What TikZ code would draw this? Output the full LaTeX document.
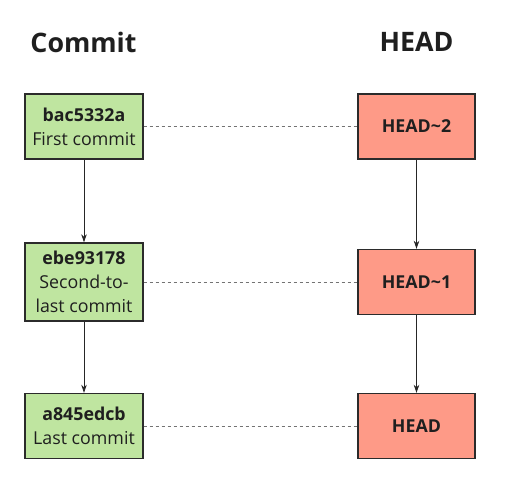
\documentclass[tikz,border=0pt]{standalone}
\usepackage{fontspec}
\setmainfont{Open Sans}
\usepackage{tikz}
\usetikzlibrary{arrows.meta}
\definecolor{commitgreen}{HTML}{BFE5A0}
\definecolor{headred}{HTML}{FE9A87}
\definecolor{boxline}{HTML}{2B2B2B}
\tikzset{
  commitbox/.style={draw=boxline,line width=1.4pt,fill=commitgreen,minimum width=118pt,
    minimum height=65pt,inner sep=0pt,align=center,text=black!88,font=\fontsize{17.8}{24}\selectfont},
  headbox/.style={draw=boxline,line width=1.4pt,fill=headred,minimum width=117pt,
    minimum height=65pt,inner sep=0pt,text=black!88,font=\fontsize{17.8}{24}\selectfont\bfseries},
  title/.style={font=\fontsize{26.8}{30}\selectfont\bfseries,text=black!88},
  link/.style={dashed,dash pattern=on 3pt off 3pt,draw=black!55,line width=0.7pt},
  next/.style={->,line width=0.8pt,draw=black!85}
}
\begin{document}
\begin{tikzpicture}[x=1pt,y=-1pt,>={Stealth[length=8pt,width=5.5pt]}]
      \useasboundingbox[fill=white] (0,0) rectangle (511,490);
      \node[title] (tcommit) at (83.5,42) {Commit};
      \node[title] (thead) at (416.5,42) {HEAD};
      % commits
      \node[commitbox] (c1) at (84,126.5) {\textbf{bac5332a}\\First commit};
      \node[commitbox,minimum height=78pt] (c2) at (84,282) {\textbf{ebe93178}\\Second-to-\\last commit};
      \node[commitbox] (c3) at (84,426) {\textbf{a845edcb}\\Last commit};
      % head refs
      \node[headbox] (h2) at (416.5,126.5) {HEAD\textasciitilde 2};
      \node[headbox] (h1) at (416.5,282) {HEAD\textasciitilde 1};
      \node[headbox] (h0) at (416.5,426) {HEAD};
      \draw[next] (c1) -- (c2);
      \draw[next] (c2) -- (c3);
      \draw[next] (h2) -- (h1);
      \draw[next] (h1) -- (h0);
      \draw[link] (c1) -- (h2);
      \draw[link] (c2) -- (h1);
      \draw[link] (c3) -- (h0);
    \end{tikzpicture}
\end{document}
